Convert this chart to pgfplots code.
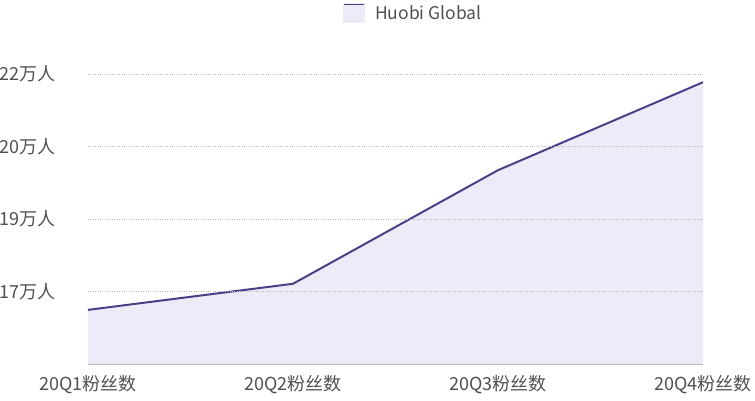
\documentclass[border=0pt]{standalone}
\usepackage{pgfplots}
\pgfplotsset{compat=1.18}
\usepackage{fontspec}
\setmainfont{Noto Sans CJK SC}
\definecolor{linecol}{HTML}{4A3F88}
\definecolor{areacol}{HTML}{ECEBF7}
\definecolor{labelcol}{HTML}{505050}
\definecolor{gridcol}{HTML}{B8B8B8}
\begin{document}
\begin{tikzpicture}
\path[use as bounding box] (0pt,0pt) rectangle (755pt,400pt);
\begin{axis}[
    at={(88pt,36pt)}, anchor=south west,
    scale only axis,
    width=615pt, height=304.5pt,
    xmin=0, xmax=3,
    ymin=16.3, ymax=22.6,
    xtick={0,1,2,3},
    xticklabels={20Q1粉丝数,20Q2粉丝数,20Q3粉丝数,20Q4粉丝数},
    ytick={17.8,19.3,20.8,22.3},
    yticklabels={17万人,19万人,20万人,22万人},
    major tick length=0pt,
    axis x line=bottom, axis y line=left,
    x axis line style={-, draw=gridcol, line width=0.8pt},
    y axis line style={draw=none},
    ymajorgrids,
    grid style={dotted, draw=gridcol, line width=0.7pt},
    axis on top,
    tick label style={font=\fontsize{18}{21}\selectfont, text=labelcol},
    xticklabel style={yshift=-8pt},
    yticklabel style={anchor=east, inner sep=0pt, text width=88pt, align=left},
    legend style={at={(axis description cs:0.4146,1.1527)}, anchor=west,
        draw=none, fill=none, inner sep=0pt,
        font=\fontsize{17.5}{20}\selectfont, text=labelcol,
        nodes={inner xsep=10pt}},
    legend cell align=left,
    legend image code/.code={
        \fill[areacol] (-10pt,-9pt) rectangle (10pt,9pt);
        \draw[linecol, line width=1.8pt] (-10pt,8.5pt) -- (10pt,8.5pt);
    },
]
\addplot[fill=areacol, draw=none, forget plot] coordinates {
    (0,17.42) (1,17.96) (2,20.31) (3,22.13)
} \closedcycle;
\addplot[linecol, line width=2pt] coordinates {
    (0,17.42) (1,17.96) (2,20.31) (3,22.13)
};
\legend{Huobi Global}
\end{axis}
\end{tikzpicture}
\end{document}
